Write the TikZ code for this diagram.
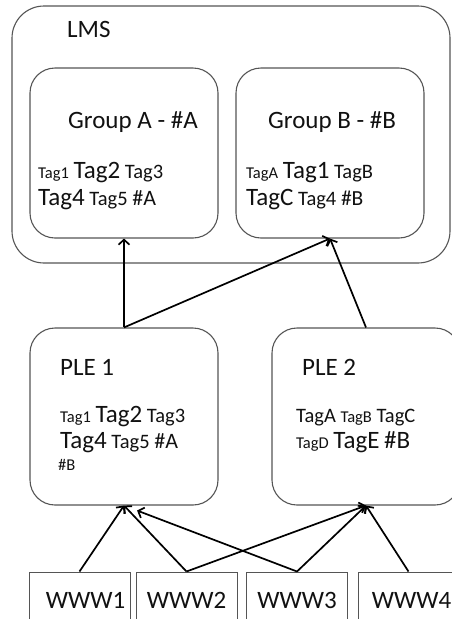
\documentclass[tikz,border=0pt]{standalone}
\usepackage{fontspec}
\setmainfont{Carlito}
\usetikzlibrary{arrows.meta}
\newcommand{\tsm}{\fontsize{16.5}{17}\selectfont}
\newcommand{\tmd}{\fontsize{20.5}{21}\selectfont}
\newcommand{\tlg}{\fontsize{25}{25}\selectfont}
\newcommand{\ttl}{\fontsize{25}{25}\selectfont}
\definecolor{edgec}{HTML}{555555}
\definecolor{txtc}{HTML}{111111}
\begin{document}
\begin{tikzpicture}[x=1pt,y=-1pt,
  box/.style={draw=edgec, line width=1.1pt, rounded corners=25pt, minimum width=188pt, minimum height=170pt, inner sep=0pt},
  wbox/.style={draw=edgec, line width=1pt, minimum width=101pt, minimum height=56pt, inner sep=0pt, font=\ttl, text=txtc},
  conn/.style={line width=1.7pt, -{Straight Barb[length=5pt,width=11pt]}},
  lbl/.style={anchor=base west, inner sep=0pt, text=txtc, font=\tmd},
]
\useasboundingbox (0,0) rectangle (452,619);
\begin{scope}
\clip (0,0) rectangle (452,619);
% LMS container
\node[box, rounded corners=32pt, minimum width=438pt, minimum height=257pt] (lms) at (231,134.5) {};
\node[lbl, font=\ttl] (lmst) at (67,37) {LMS};
% Groups
\node[box] (ga) at (124,153) {};
\node[box] (gb) at (330,153) {};
\node[lbl, font=\ttl] (gat) at (68,128) {Group A - \#A};
\node[lbl, font=\ttl] (gbt) at (268,128) {Group B - \#B};
\node[lbl] (ga1) at (38,178) {{\tsm Tag1} {\tlg Tag2} {\tmd Tag3}};
\node[lbl] (ga2) at (38,205) {{\tlg Tag4} {\tmd Tag5} {\fontsize{22}{22}\selectfont\#A}};
\node[lbl] (gb1) at (246,178) {{\tsm TagA} {\tlg Tag1} {\tmd TagB}};
\node[lbl] (gb2) at (246,205) {{\tlg TagC} {\tmd Tag4} {\fontsize{21.5}{22}\selectfont\#B}};
% PLEs
\node[box, minimum height=177pt] (p1) at (124,416.5) {};
\node[box, minimum height=177pt] (p2) at (366,416.5) {};
\node[lbl, font=\ttl] (p1t) at (60,375) {PLE 1};
\node[lbl, font=\ttl] (p2t) at (302,375) {PLE 2};
\node[lbl] (p1a) at (60,422) {{\tsm Tag1} {\tlg Tag2} {\tmd Tag3}};
\node[lbl] (p1b) at (60,448) {{\tlg Tag4} {\tmd Tag5} {\fontsize{22}{22}\selectfont\#A}};
\node[lbl] (p1c) at (58,470) {{\tsm\#B}};
\node[lbl] (p2a) at (296,422) {{\tmd TagA} {\tsm TagB} {\tmd TagC}};
\node[lbl] (p2b) at (296,448) {{\tsm TagD} {\tlg TagE} {\tlg\#B}};
% WWW
\node[wbox] (w1) at (79.5,600) {\hspace*{12pt}WWW1};
\node[wbox] (w2) at (186.5,600) {WWW2};
\node[wbox] (w3) at (297,600) {WWW3};
\node[wbox] (w4) at (408.5,600) {\hspace*{6pt}WWW4};
\end{scope}
% connectors
\draw[conn] (p1.north) -- (ga.south);
\draw[conn] (p1.north) -- (gb.south);
\draw[conn] (p2.north) -- (gb.south);
\draw[conn] (w1.north) -- (p1.south);
\draw[conn] (w2.north) -- (p1.south);
\draw[conn] (w2.north) -- (p2.south);
\draw[conn, shorten >=14pt] (w3.north) -- (p1.south);
\draw[conn] (w3.north) -- (p2.south);
\draw[conn] (w4.north) -- (p2.south);
\end{tikzpicture}
\end{document}
